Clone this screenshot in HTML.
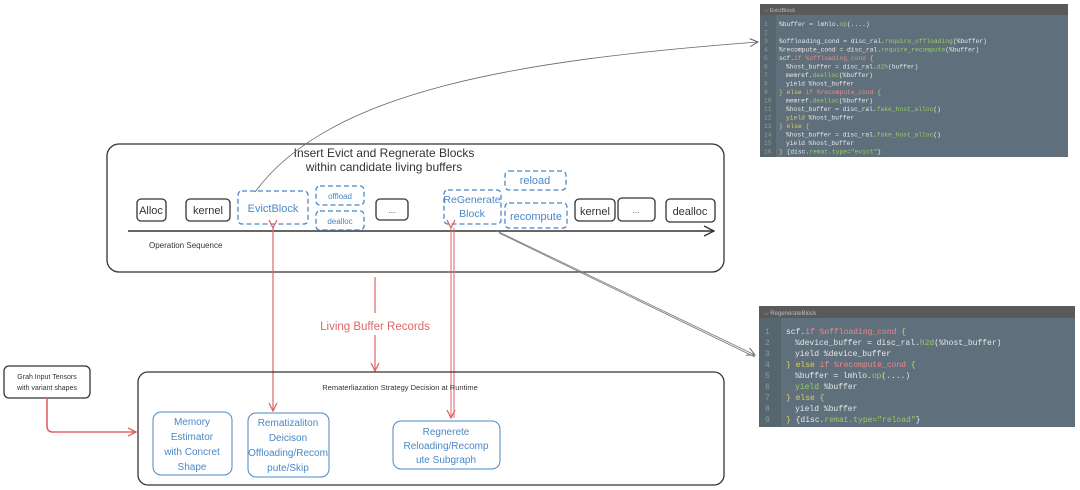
<!DOCTYPE html>
<html><head><meta charset="utf-8"><style>
html,body{margin:0;padding:0;background:#fff;width:1080px;height:490px;overflow:hidden}
svg{display:block}
.h{font-family:"Liberation Sans",sans-serif}
.m{font-family:"Liberation Mono",monospace}
</style></head><body>
<svg width="1080" height="490" viewBox="0 0 1080 490" xmlns="http://www.w3.org/2000/svg">
<defs>
<marker id="ag" markerWidth="10" markerHeight="10" refX="9" refY="5" orient="auto" markerUnits="userSpaceOnUse"><path d="M1,1 L9,5 L1,9" fill="none" stroke="#666" stroke-width="1"/></marker>
<marker id="ar" markerWidth="10" markerHeight="10" refX="9" refY="5" orient="auto" markerUnits="userSpaceOnUse"><path d="M1,1 L9,5 L1,9" fill="none" stroke="#e06666" stroke-width="1.3"/></marker>
<marker id="ak" markerWidth="12" markerHeight="12" refX="11" refY="6" orient="auto" markerUnits="userSpaceOnUse"><path d="M1,1 L11,6 L1,11" fill="none" stroke="#333" stroke-width="1.3"/></marker>
</defs>
<rect x="107" y="144" width="617" height="128" rx="12" fill="none" stroke="#333" stroke-width="1.3"/>
<g class="h" font-size="12" fill="#333" text-anchor="middle">
<text x="384" y="157">Insert Evict and Regnerate Blocks</text>
<text x="384" y="171">within candidate living buffers</text>
</g>
<line x1="128" y1="231" x2="714" y2="231" stroke="#333" stroke-width="1.5" marker-end="url(#ak)"/>
<text class="h" x="149" y="248" font-size="8" fill="#333">Operation Sequence</text>
<g fill="none" stroke="#333" stroke-width="1.3">
<rect x="137" y="199" width="29" height="22" rx="4"/>
<rect x="186" y="199" width="44" height="22" rx="4"/>
<rect x="376" y="199" width="32" height="21" rx="4"/>
<rect x="575" y="199" width="40" height="22" rx="4"/>
<rect x="618" y="198" width="37" height="23" rx="4"/>
<rect x="666" y="199" width="49" height="23" rx="4"/>
</g>
<g fill="none" stroke="#4a88c7" stroke-width="1.3" stroke-dasharray="5,3">
<rect x="238" y="191" width="70" height="33" rx="4"/>
<rect x="316" y="186" width="48" height="19" rx="4"/>
<rect x="316" y="211" width="48" height="19" rx="4"/>
<rect x="444" y="190" width="57" height="34" rx="4"/>
<rect x="505" y="171" width="61" height="19" rx="4"/>
<rect x="505" y="203" width="62" height="25" rx="4"/>
</g>
<g class="h" font-size="11" fill="#333" text-anchor="middle">
<text x="151" y="214">Alloc</text>
<text x="208" y="214">kernel</text>
<text x="392" y="213" font-size="8">...</text>
<text x="595" y="215">kernel</text>
<text x="636" y="213" font-size="8">...</text>
<text x="690" y="215">dealloc</text>
</g>
<g class="h" font-size="11" fill="#4a88c7" text-anchor="middle">
<text x="273" y="212">EvictBlock</text>
<text x="340" y="199" font-size="8">offload</text>
<text x="340" y="224" font-size="8">dealloc</text>
<text x="472" y="203" font-size="10.5">ReGenerate</text>
<text x="472" y="217" font-size="10.5">Block</text>
<text x="535" y="184">reload</text>
<text x="536" y="220">recompute</text>
</g>
<path d="M255,192 C330,90 520,60 758,42" fill="none" stroke="#666" stroke-width="0.8" marker-end="url(#ag)"/>
<line x1="497" y1="231" x2="755" y2="355" stroke="#777" stroke-width="0.8" marker-end="url(#ag)"/>
<line x1="499" y1="233" x2="755" y2="357" stroke="#777" stroke-width="0.8"/>
<line x1="273" y1="228" x2="273" y2="411" stroke="#e06666" stroke-width="1.2" marker-start="url(#ar)" marker-end="url(#ar)"/>
<line x1="451" y1="228" x2="451" y2="418" stroke="#e06666" stroke-width="1" marker-start="url(#ar)" marker-end="url(#ar)"/>
<line x1="454" y1="228" x2="454" y2="418" stroke="#e06666" stroke-width="1"/>
<line x1="375" y1="277" x2="375" y2="313" stroke="#e06666" stroke-width="1.2"/>
<line x1="375" y1="335" x2="375" y2="371" stroke="#e06666" stroke-width="1.2" marker-end="url(#ar)"/>
<text class="h" x="375" y="330" font-size="11.5" fill="#e06666" text-anchor="middle">Living Buffer Records</text>
<rect x="4" y="366" width="86" height="32" rx="5" fill="none" stroke="#333" stroke-width="1.3"/>
<text class="h" x="47" y="379" font-size="7" fill="#333" text-anchor="middle">Grah Input Tensors</text>
<text class="h" x="47" y="390" font-size="7" fill="#333" text-anchor="middle">with variant shapes</text>
<path d="M47,398 L47,426 Q47,432 53,432 L136,432" fill="none" stroke="#e06666" stroke-width="1.6" marker-end="url(#ar)"/>
<rect x="138" y="372" width="586" height="113" rx="10" fill="none" stroke="#333" stroke-width="1.3"/>
<text class="h" x="400" y="390" font-size="7.5" fill="#333" text-anchor="middle">Rematerliazation Strategy Decision at Runtime</text>
<g fill="none" stroke="#4a88c7" stroke-width="1">
<rect x="153" y="412" width="79" height="63" rx="8"/>
<rect x="248" y="413" width="81" height="64" rx="8"/>
<rect x="393" y="421" width="107" height="48" rx="8"/>
</g>
<g class="h" font-size="10" fill="#4a88c7" text-anchor="middle">
<text x="192" y="425">Memory</text><text x="192" y="440">Estimator</text><text x="192" y="455">with Concret</text><text x="192" y="470">Shape</text>
<text x="288" y="426">Rematizaliton</text><text x="288" y="441">Deicison</text><text x="288" y="456">Offloading/Recom</text><text x="288" y="471">pute/Skip</text>
<text x="446" y="435">Regnerete</text><text x="446" y="449">Reloading/Recomp</text><text x="446" y="463">ute Subgraph</text>
</g>
<rect x="760" y="4" width="308" height="153" fill="#5f707c"/>
<rect x="760" y="4" width="308" height="11" fill="#5a5a5a"/>
<rect x="760" y="15" width="16" height="142" fill="#56666f"/>
<text class="h" x="764" y="12" font-size="5.5" fill="#bbb">⌵ EvictBlock</text>
<g class="m" font-size="6.3" fill="#e8e8e8">
<text x="764" y="26" fill="#999">1</text><text x="779" y="26">%buffer = lmhlo.<tspan fill="#9c6">op</tspan>(....)</text>
<text x="764" y="34.5" fill="#999">2</text>
<text x="764" y="43" fill="#999">3</text><text x="779" y="43">%offloading_cond = disc_ral.<tspan fill="#9c6">require_offloading</tspan>(%buffer)</text>
<text x="764" y="51.5" fill="#999">4</text><text x="779" y="51.5">%recompute_cond = disc_ral.<tspan fill="#9c6">require_recompute</tspan>(%buffer)</text>
<text x="764" y="60" fill="#999">5</text><text x="779" y="60">scf.<tspan fill="#e88">if</tspan> <tspan fill="#e88">%offloading_cond</tspan> <tspan fill="#dc6">{</tspan></text>
<text x="764" y="68.5" fill="#999">6</text><text x="786" y="68.5">%host_buffer = disc_ral.<tspan fill="#9c6">d2h</tspan>(buffer)</text>
<text x="764" y="77" fill="#999">7</text><text x="786" y="77">memref.<tspan fill="#9c6">dealloc</tspan>(%buffer)</text>
<text x="764" y="85.5" fill="#999">8</text><text x="786" y="85.5">yield %host_buffer</text>
<text x="764" y="94" fill="#999">9</text><text x="779" y="94"><tspan fill="#dc6">} else</tspan> <tspan fill="#e88">if %recompute_cond</tspan> <tspan fill="#dc6">{</tspan></text>
<text x="764" y="102.5" fill="#999">10</text><text x="786" y="102.5">memref.<tspan fill="#9c6">dealloc</tspan>(%buffer)</text>
<text x="764" y="111" fill="#999">11</text><text x="786" y="111">%host_buffer = disc_ral.<tspan fill="#9c6">fake_host_alloc</tspan>()</text>
<text x="764" y="119.5" fill="#999">12</text><text x="786" y="119.5"><tspan fill="#dc6">yield</tspan> %host_buffer</text>
<text x="764" y="128" fill="#999">13</text><text x="779" y="128" fill="#dc6">} else {</text>
<text x="764" y="136.5" fill="#999">14</text><text x="786" y="136.5">%host_buffer = disc_ral.<tspan fill="#9c6">fake_host_alloc</tspan>()</text>
<text x="764" y="145" fill="#999">15</text><text x="786" y="145">yield %host_buffer</text>
<text x="764" y="153.5" fill="#999">16</text><text x="779" y="153.5"><tspan fill="#dc6">}</tspan> {disc.<tspan fill="#9c6">remat.type="evict"</tspan>}</text>
</g>
<rect x="759" y="306" width="316" height="121" fill="#5f707c"/>
<rect x="759" y="306" width="316" height="12" fill="#5a5a5a"/>
<rect x="759" y="318" width="22" height="109" fill="#56666f"/>
<text class="h" x="764" y="315" font-size="6" fill="#bbb">⌵ RegenerateBlock</text>
<g class="m" font-size="8" fill="#e8e8e8">
<text x="765" y="334" fill="#999">1</text><text x="786" y="334">scf.<tspan fill="#e88">if %offloading_cond</tspan> <tspan fill="#dc6">{</tspan></text>
<text x="765" y="345" fill="#999">2</text><text x="795" y="345">%device_buffer = disc_ral.<tspan fill="#9c6">h2d</tspan>(%host_buffer)</text>
<text x="765" y="356" fill="#999">3</text><text x="795" y="356">yield %device_buffer</text>
<text x="765" y="367" fill="#999">4</text><text x="786" y="367"><tspan fill="#dc6">} else</tspan> <tspan fill="#e88">if %recompute_cond</tspan> <tspan fill="#dc6">{</tspan></text>
<text x="765" y="378" fill="#999">5</text><text x="795" y="378">%buffer = lmhlo.<tspan fill="#9c6">op</tspan>(....)</text>
<text x="765" y="389" fill="#999">6</text><text x="795" y="389"><tspan fill="#9c6">yield</tspan> %buffer</text>
<text x="765" y="400" fill="#999">7</text><text x="786" y="400" fill="#dc6">} else {</text>
<text x="765" y="411" fill="#999">8</text><text x="795" y="411">yield %buffer</text>
<text x="765" y="422" fill="#999">9</text><text x="786" y="422"><tspan fill="#dc6">}</tspan> {disc.<tspan fill="#9c6">remat.type="reload"</tspan>}</text>
</g>
</svg>
</body></html>
